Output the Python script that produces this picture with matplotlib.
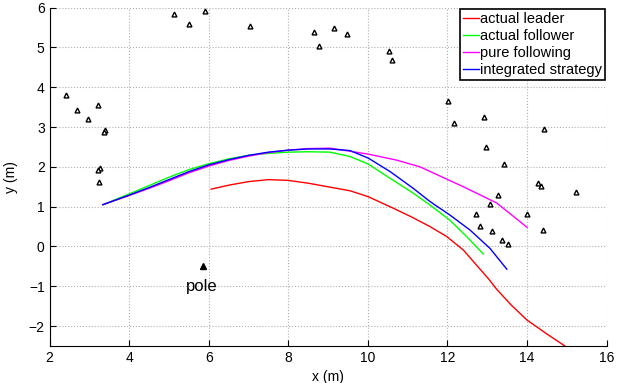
import matplotlib.pyplot as plt

plt.rcParams['font.family'] = ['Liberation Sans', 'DejaVu Sans']

# obstacle points (x, y) in metres
obs_x = [2.41, 2.70, 2.96, 3.21, 3.40, 3.37, 3.26, 3.22, 3.24,
         5.12, 5.51, 5.91, 7.03, 8.65, 8.77, 9.15, 9.48, 10.53, 10.61,
         12.01, 12.16, 12.92, 14.42, 12.97, 13.43, 14.27, 14.34, 15.23,
         13.26, 13.06, 12.71, 14.00, 12.82, 13.13, 14.41, 13.37, 13.52]
obs_y = [3.81, 3.43, 3.20, 3.56, 2.93, 2.87, 1.98, 1.91, 1.63,
         5.83, 5.59, 5.91, 5.55, 5.38, 5.04, 5.48, 5.33, 4.90, 4.69,
         3.66, 3.09, 3.26, 2.94, 2.49, 2.08, 1.59, 1.52, 1.38,
         1.30, 1.06, 0.82, 0.81, 0.52, 0.39, 0.41, 0.16, 0.06]
pole = (5.85, -0.49)

leader_x = [6.06, 6.5, 7.0, 7.5, 8.0, 8.5, 9.05, 9.55, 10.01, 10.64, 11.1,
            11.56, 11.98, 12.4, 12.73, 13.02, 13.24, 13.6, 14.0, 14.5, 14.95]
leader_y = [1.44, 1.54, 1.63, 1.68, 1.66, 1.59, 1.49, 1.40, 1.25, 0.96, 0.74,
            0.50, 0.25, -0.09, -0.47, -0.80, -1.08, -1.47, -1.85, -2.2, -2.5]

follower_x = [3.34, 4.0, 4.5, 5.0, 5.5, 6.0, 6.5, 7.0, 7.5, 8.0, 8.5, 9.05,
              9.55, 10.01, 10.56, 11.14, 11.56, 12.06, 12.48, 12.9]
follower_y = [1.05, 1.32, 1.53, 1.74, 1.93, 2.08, 2.2, 2.29, 2.34, 2.37, 2.38,
              2.37, 2.26, 2.07, 1.71, 1.34, 1.04, 0.66, 0.25, -0.19]

pure_x = [3.34, 4.0, 4.5, 5.0, 5.5, 6.0, 6.5, 7.0, 7.5, 8.0, 8.5, 9.05,
          10.01, 10.72, 11.31, 11.7, 12.4, 13.24, 14.0]
pure_y = [1.05, 1.28, 1.46, 1.65, 1.85, 2.02, 2.16, 2.27, 2.36, 2.42, 2.46,
          2.47, 2.32, 2.17, 2.0, 1.82, 1.50, 1.09, 0.48]

integ_x = [3.34, 4.0, 4.5, 5.0, 5.5, 6.0, 6.5, 7.0, 7.5, 8.0, 8.5, 9.05,
           9.55, 10.01, 10.56, 11.14, 11.56, 12.06, 12.57, 13.07, 13.49]
integ_y = [1.05, 1.29, 1.48, 1.68, 1.88, 2.05, 2.18, 2.29, 2.37, 2.42, 2.45,
           2.45, 2.41, 2.22, 1.88, 1.46, 1.13, 0.79, 0.41, -0.05, -0.57]

fig = plt.figure(figsize=(6.27, 3.83), dpi=100)
ax = fig.add_axes([0.079, 0.0966, 0.8886, 0.8834])

ax.plot(obs_x, obs_y, '^', ms=3.5, mfc='white', mec='black', mew=1.0, ls='none')
ax.plot(pole[0], pole[1], '^', ms=4, color='black')
ax.text(5.82, -1.0, 'pole', fontsize=12, ha='center', va='center')

ax.plot(leader_x, leader_y, color='red', lw=1, label='actual leader')
ax.plot(follower_x, follower_y, color='#00ff00', lw=1, label='actual follower')
ax.plot(pure_x, pure_y, color='magenta', lw=1, label='pure following')
ax.plot(integ_x, integ_y, color='blue', lw=1, label='integrated strategy')

ax.set_xlim(2, 16)
ax.set_ylim(-2.5, 6)
ax.set_xticks(range(2, 17, 2))
ax.set_yticks(range(-2, 7))
ax.set_xlabel('x (m)', fontsize=10, labelpad=4)
ax.set_ylabel('y (m)', fontsize=10, labelpad=8)
ax.tick_params(direction='in', labelsize=10, length=4, top=False, right=False)
ax.grid(True, ls=':', color='#b0b0b0', lw=0.8)
ax.spines['top'].set_visible(False)
ax.spines['right'].set_visible(False)

leg = ax.legend(loc='upper right', fontsize=10.5, handlelength=1.1,
                handletextpad=0.1, labelspacing=0.2, borderpad=0.2,
                borderaxespad=0.1, fancybox=False, framealpha=1)
leg.get_frame().set_edgecolor('black')
leg.get_frame().set_linewidth(1.2)

plt.savefig('out.png')
